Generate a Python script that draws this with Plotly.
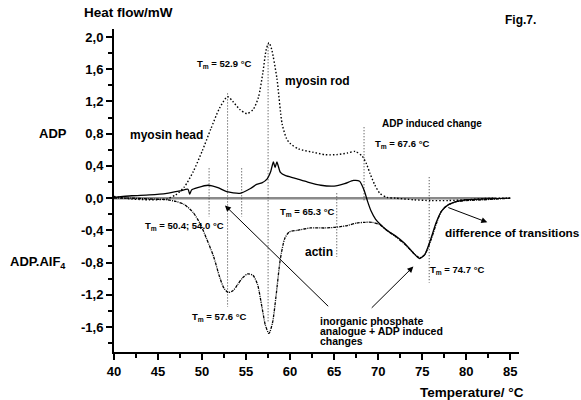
import plotly.graph_objects as go

# ---------------- data ----------------
adp_T = [40, 42, 44, 46, 47, 48, 49, 50, 51, 52, 52.9, 53.5, 54.3, 55.1, 55.8, 56.4, 56.9, 57.3, 57.6,
         57.9, 58.5, 59.1, 59.6, 60.0, 61.0, 62.6, 64.0, 65.3, 66.5, 67.4, 68.2, 68.7, 69.1, 69.6, 70.2,
         71, 72, 74, 76, 78, 80, 83, 85]
adp_v = [0.02, -0.01, -0.02, -0.01, 0.04, 0.14, 0.33, 0.58, 0.86, 1.12, 1.26, 1.20, 1.10, 1.05, 1.10, 1.25,
         1.55, 1.85, 1.93, 1.85, 1.49, 0.92, 0.74, 0.68, 0.61, 0.57, 0.54, 0.54, 0.56, 0.58, 0.52, 0.42, 0.30,
         0.17, 0.06, 0.01, 0.0, -0.02, -0.03, -0.03, -0.02, 0.0, 0.0]

alf_T = [40, 42, 44, 46, 47, 48, 49, 49.8, 50.5, 51.3, 52, 52.5, 53.0, 53.5, 54, 54.6, 55.2, 55.8, 56.3,
         56.8, 57.2, 57.6, 58.0, 58.4, 58.9, 59.4, 59.9, 60.8, 62.3, 64, 65.3, 66.5, 67.5, 68.5, 69.3, 70.2,
         71, 72, 73, 74, 74.7, 75.3, 76, 76.6, 77.2, 78, 79, 80, 82, 85]
alf_v = [0.0, 0.0, -0.01, -0.02, -0.04, -0.08, -0.18, -0.32, -0.50, -0.72, -0.98, -1.12, -1.17, -1.15, -1.08,
         -0.99, -0.94, -0.96, -1.07, -1.35, -1.58, -1.68, -1.55, -1.22, -0.75, -0.50, -0.42, -0.40, -0.37,
         -0.37, -0.36, -0.34, -0.31, -0.30, -0.30, -0.33, -0.40, -0.48, -0.57, -0.68, -0.74, -0.70, -0.52,
         -0.32, -0.16, -0.08, -0.04, -0.03, -0.02, 0.0]

diff_T = [40, 42, 44, 46, 47.5, 48.4, 48.6, 48.8, 49.5, 50.7, 51.8, 52.8, 54.3, 55.5, 56.2, 56.8, 57.4, 57.8,
          58.1, 58.3, 58.5, 58.9, 59.5, 60.5, 62, 63.5, 65, 66.2, 67.2, 67.9, 68.4, 68.8, 69.2, 69.7, 70.2,
          71, 72, 73, 74, 74.7, 75.3, 76, 76.6, 77.2, 78, 79, 80, 82, 85]
diff_v = [0.01, 0.03, 0.04, 0.06, 0.09, 0.11, 0.05, 0.10, 0.13, 0.16, 0.13, 0.08, 0.06, 0.12, 0.17, 0.19, 0.24,
          0.33, 0.45, 0.38, 0.45, 0.32, 0.28, 0.25, 0.20, 0.16, 0.15, 0.18, 0.22, 0.21, 0.10, -0.04, -0.16,
          -0.26, -0.32, -0.40, -0.47, -0.56, -0.68, -0.75, -0.70, -0.50, -0.30, -0.16, -0.08, -0.04, -0.02,
          -0.01, 0.0]

baseline_T = [40, 83.3]
baseline_v = [0, 0]

vline_T = [50.8, 52.9, 54.5, 57.5, 65.3, 68.4, 75.8]
vline_top = [0.37, 1.30, 0.37, 1.91, 0.06, 0.88, 0.26]
vline_bottom = [-0.23, -1.35, -0.23, -1.55, -0.73, -0.05, -1.05]

y_ticks = [-1.6, -1.2, -0.8, -0.4, 0.0, 0.4, 0.8, 1.2, 1.6, 2.0]
y_ticktext = ["-1,6", "-1,2", "-0,8", "-0,4", "0,0", "0,4", "0,8", "1,2", "1,6", "2,0"]
x_ticks = [40, 45, 50, 55, 60, 65, 70, 75, 80, 85]

FONT = "Liberation Sans, Arial, sans-serif"

fig = go.Figure()

# baseline
fig.add_trace(go.Scatter(x=baseline_T, y=baseline_v, mode="lines",
                         line=dict(color="#8a8a8a", width=2.5), hoverinfo="skip"))

# vertical marker lines
vx, vy = [], []
for t, a, b in zip(vline_T, vline_top, vline_bottom):
    vx += [t, t, None]
    vy += [a, b, None]
fig.add_trace(go.Scatter(x=vx, y=vy, mode="lines",
                         line=dict(color="#333333", width=1, dash="1px,2px"), hoverinfo="skip"))

fig.add_trace(go.Scatter(x=adp_T, y=adp_v, mode="lines",
                         line=dict(color="black", width=1.4, dash="1.5px,2px", shape="spline", smoothing=0.7)))
fig.add_trace(go.Scatter(x=alf_T, y=alf_v, mode="lines",
                         line=dict(color="black", width=1.3, dash="3px,1px,1px,1px", shape="spline", smoothing=0.7)))
fig.add_trace(go.Scatter(x=diff_T, y=diff_v, mode="lines",
                         line=dict(color="black", width=1.3, shape="spline", smoothing=0.6)))

ann = []


def txt(text, x, y, size, ref="data", xanchor="left", yanchor="middle"):
    d = dict(text=text, x=x, y=y, showarrow=False, xanchor=xanchor, yanchor=yanchor,
             font=dict(family=FONT, size=size, color="black", weight="bold"))
    if ref == "paper":
        d.update(xref="paper", yref="paper")
    else:
        d.update(xref="x", yref="y")
    ann.append(d)


txt("T<sub>m</sub> = 52.9 °C", 49.2, 1.67, 9.5)
txt("myosin rod", 59.2, 1.46, 12)
txt("ADP induced change", 70.2, 0.93, 10)
txt("T<sub>m</sub> = 67.6 °C", 69.4, 0.67, 9.5)
txt("myosin head", 41.6, 0.79, 12)
txt("T<sub>m</sub> = 50.4; 54.0 °C", 43.3, -0.35, 9.5)
txt("T<sub>m</sub> = 65.3 °C", 58.6, -0.17, 9.5)
txt("actin", 61.5, -0.67, 12)
txt("T<sub>m</sub> = 74.7 °C", 75.7, -0.89, 9.5)
txt("T<sub>m</sub> = 57.6 °C", 48.6, -1.48, 9.5)
txt("inorganic phosphate", 63.2, -1.52, 10.5)
txt("analogue + ADP induced", 63.2, -1.65, 10.5)
txt("changes", 63.2, -1.775, 10.5)

txt("difference of transitions", 0.812, 0.368, 11.8, ref="paper")
txt("ADP", -0.19, 0.675, 13, ref="paper")
txt("ADP.AIF<sub>4</sub>", -0.262, 0.276, 13, ref="paper")
txt("Heat flow/mW", -0.079, 1.05, 13.5, ref="paper")
txt("Fig.7.", 0.96, 1.028, 12, ref="paper")
txt("Temperature/ °C", 0.75, -0.124, 13.5, ref="paper")

# arrows (head, tail)
arrows = [((82.4, -0.30), (77.8, -0.11)),
          ((52.6, -0.09), (64.5, -1.36)),
          ((74.0, -0.85), (69.1, -1.38))]
for (hx, hy), (tx, ty) in arrows:
    ann.append(dict(x=hx, y=hy, ax=tx, ay=ty, xref="x", yref="y", axref="x", ayref="y",
                    text="", showarrow=True, arrowhead=2, arrowsize=1.2, arrowwidth=1, arrowcolor="black"))

fig.update_layout(
    width=581, height=400,
    margin=dict(l=114, r=62, t=29, b=48),
    paper_bgcolor="white", plot_bgcolor="white",
    showlegend=False,
    font=dict(family=FONT, size=13, color="black", weight="bold"),
    annotations=ann,
    xaxis=dict(range=[40, 86], showgrid=False, zeroline=False, showline=True, linecolor="black",
               linewidth=2, ticks="outside", ticklen=6, tickwidth=1.5, tickcolor="black",
               tickmode="array", tickvals=x_ticks,
               tickfont=dict(family=FONT, size=13, color="black", weight="bold"),
               minor=dict(ticks="outside", ticklen=4, tickwidth=1.5, tickcolor="black", dtick=2.5, tick0=40)),
    yaxis=dict(range=[-1.91, 2.1], showgrid=False, zeroline=False, showline=True, linecolor="black",
               linewidth=2, ticks="outside", ticklen=6, tickwidth=1.5, tickcolor="black",
               tickmode="array", tickvals=y_ticks, ticktext=y_ticktext,
               tickfont=dict(family=FONT, size=13, color="black", weight="bold"),
               minor=dict(ticks="outside", ticklen=4, tickwidth=1.5, tickcolor="black", dtick=0.2, tick0=0)),
)

fig.write_html("out.html", config={"displayModeBar": False},
               post_script="document.body.style.margin='0';document.body.style.overflow='hidden';")
